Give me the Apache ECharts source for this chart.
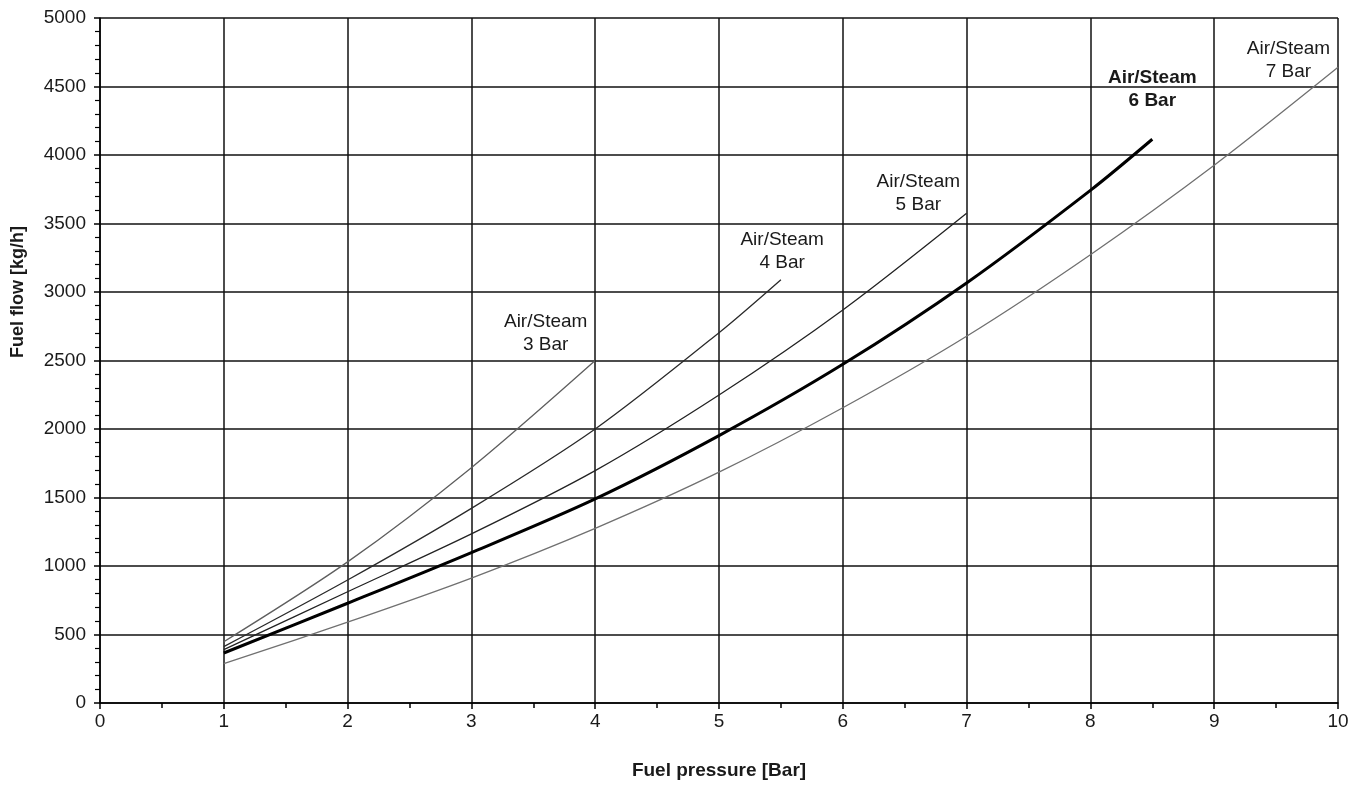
<!DOCTYPE html>
<html>
<head>
<meta charset="utf-8">
<script src="https://cdn.jsdelivr.net/npm/echarts@6/dist/echarts.min.js"></script>
<style>html,body{margin:0;padding:0;background:#fff}#c{width:1367px;height:787px}</style>
</head>
<body>
<div id="c"></div>
<script>
// Fuel pressure [Bar] (x) and fuel flow [kg/h] (y) per air/steam pressure
const x3 = [1, 2, 3, 4];
const y3 = [447, 1030, 1718, 2500];
const x4 = [1, 2, 3, 4, 5, 5.5];
const y4 = [412, 898, 1421, 2000, 2703, 3090];
const x5 = [1, 2, 3, 4, 5, 6, 7];
const y5 = [390, 812, 1234, 1696, 2248, 2869, 3575];
const x6 = [1, 2, 3, 4, 5, 6, 7, 8, 8.5];
const y6 = [365, 728, 1098, 1490, 1952, 2472, 3066, 3742, 4115];
const x7 = [1, 2, 3, 4, 5, 6, 7, 8, 9, 10];
const y7 = [287, 590, 912, 1275, 1685, 2155, 2677, 3272, 3925, 4640];
const seriesNames = ['Air/Steam\n3 Bar', 'Air/Steam\n4 Bar', 'Air/Steam\n5 Bar', 'Air/Steam\n6 Bar', 'Air/Steam\n7 Bar'];
// label anchor positions (data coords)
const labelX = [3.6, 5.51, 6.61, 8.5, 9.6];
const labelY = [2700, 3300, 3720, 4480, 4690];
const xTicks = [0, 1, 2, 3, 4, 5, 6, 7, 8, 9, 10];
const yTicks = [0, 500, 1000, 1500, 2000, 2500, 3000, 3500, 4000, 4500, 5000];
const xTitle = 'Fuel pressure [Bar]';
const yTitle = 'Fuel flow [kg/h]';

const FONT = 'Liberation Sans, Arial, sans-serif';
const xs = [x3, x4, x5, x6, x7];
const ys = [y3, y4, y5, y6, y7];
const colors = ['#5e5e5e', '#2a2a2a', '#222222', '#000000', '#707070'];
const widths = [1.3, 1.3, 1.3, 3, 1.3];

const series = xs.map((xa, i) => ({
  type: 'line',
  name: seriesNames[i],
  data: xa.map((v, j) => [v, ys[i][j]]),
  smooth: 0.3,
  showSymbol: false,
  lineStyle: { color: colors[i], width: widths[i] },
  silent: true,
  z: 3,
  markPoint: {
    symbol: 'circle', symbolSize: 0,
    data: [{ coord: [labelX[i], labelY[i]] }],
    label: {
      show: true, position: 'inside',
      formatter: seriesNames[i],
      fontFamily: FONT,
      fontSize: 19, lineHeight: 23,
      color: '#1a1a1a',
      fontWeight: i === 3 ? 'bold' : 'normal',
      align: 'center'
    }
  }
}));

const chart = echarts.init(document.getElementById('c'));
chart.setOption({
  animation: false,
  backgroundColor: '#fff',
  grid: { left: 100, right: 29, top: 18, bottom: 84, containLabel: false },
  graphic: [{
    type: 'text', x: 18, y: 292, rotation: Math.PI / 2,
    style: { text: yTitle, font: 'bold 18px ' + FONT, fill: '#1a1a1a', textAlign: 'center', textVerticalAlign: 'middle' }
  }],
  xAxis: {
    type: 'value', min: xTicks[0], max: xTicks[xTicks.length - 1], interval: 1,
    name: xTitle, nameLocation: 'middle', nameGap: 58,
    nameTextStyle: { fontFamily: FONT, fontSize: 19, fontWeight: 'bold', color: '#1a1a1a' },
    axisLine: { show: true, onZero: false, lineStyle: { color: '#000', width: 1.5 } },
    axisTick: { show: true, length: 6, lineStyle: { color: '#000', width: 1.5 } },
    minorTick: { show: true, splitNumber: 2, length: 5, lineStyle: { color: '#000', width: 1.5 } },
    axisLabel: { margin: 9, fontFamily: FONT, fontSize: 19, color: '#1a1a1a' },
    splitLine: { show: true, lineStyle: { color: '#111', width: 1.5 } }
  },
  yAxis: {
    type: 'value', min: yTicks[0], max: yTicks[yTicks.length - 1], interval: 500,
    axisLine: { show: true, lineStyle: { color: '#000', width: 1.5 } },
    axisTick: { show: true, length: 6, lineStyle: { color: '#000', width: 1.5 } },
    minorTick: { show: true, splitNumber: 5, length: 5, lineStyle: { color: '#000', width: 1.2 } },
    axisLabel: { margin: 14, fontFamily: FONT, fontSize: 19, color: '#1a1a1a', formatter: v => String(v) },
    splitLine: { show: true, lineStyle: { color: '#111', width: 1.5 } }
  },
  series: series
});
</script>
</body>
</html>
